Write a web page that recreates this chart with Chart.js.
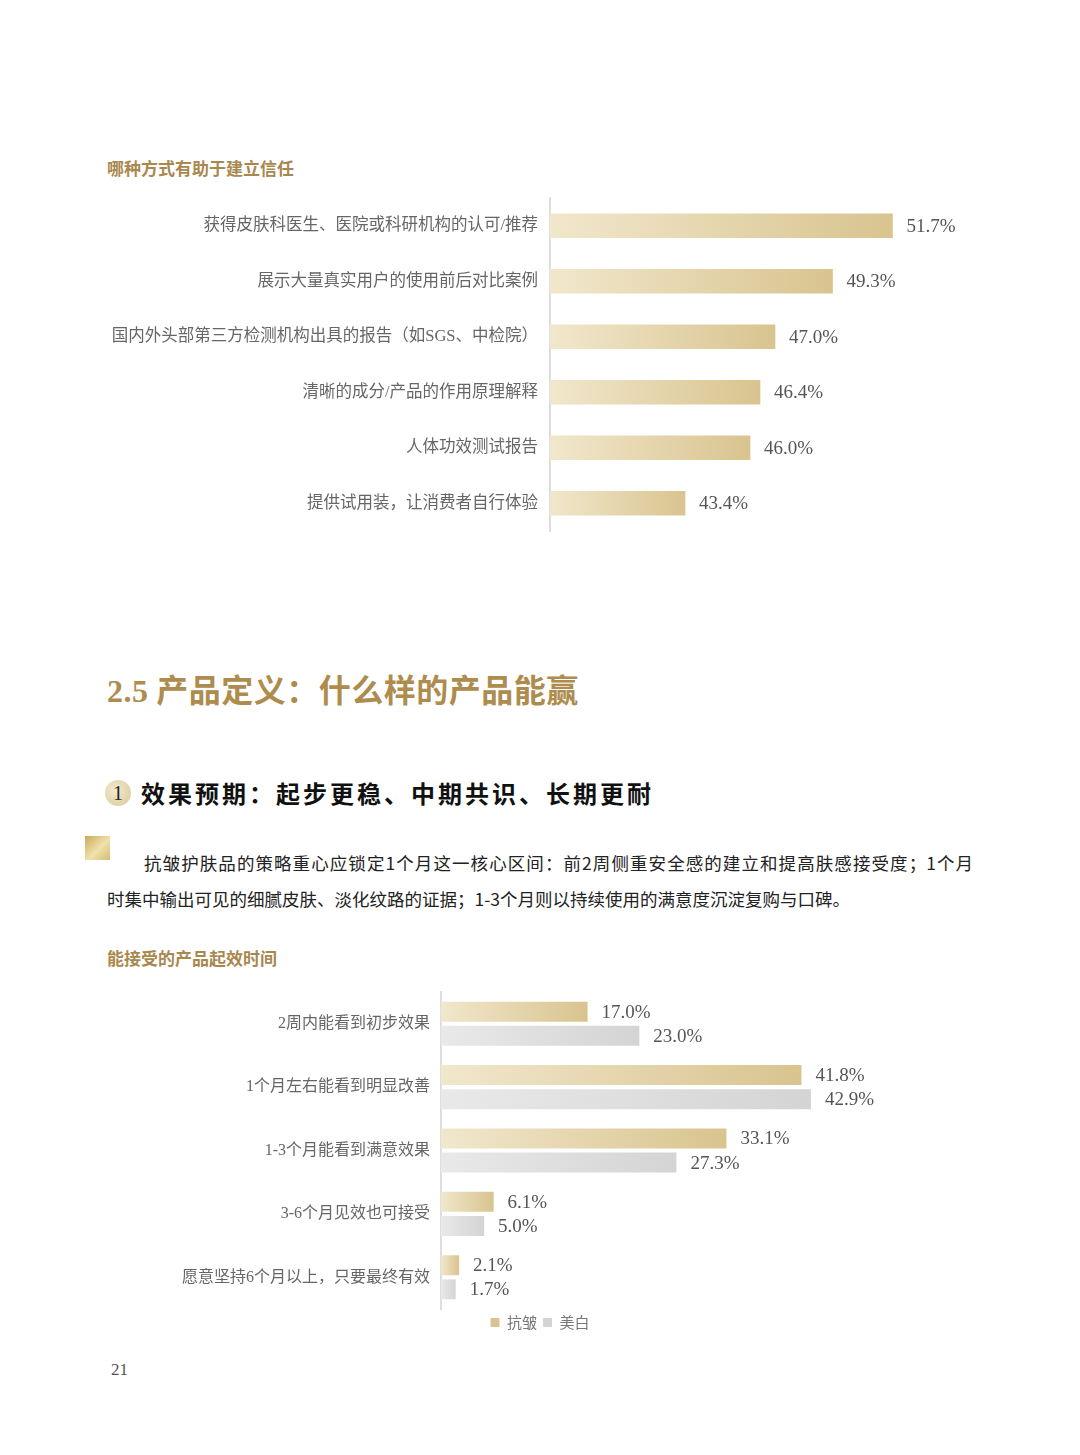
<!DOCTYPE html>
<html lang="zh">
<head>
<meta charset="UTF-8">
<script src="https://cdn.jsdelivr.net/npm/chart.js"></script>
<title>2.5 产品定义</title>
<style>
  html, body { margin: 0; padding: 0; background: #fff; }
  body { width: 1080px; height: 1455px; position: relative; overflow: hidden;
         font-family: "Noto Sans CJK SC", "Liberation Serif", sans-serif; }
  .abs { position: absolute; line-height: 1; white-space: nowrap; }
  .sub { left: 107px; font-size: 17px; font-weight: bold; color: #a8884f; }
  #title { left: 107px; top: 672px; font-size: 32px; font-weight: bold; color: #ae8c4e; letter-spacing: 0.5px; }
  #title .num { font-family: "Liberation Serif", serif; }
  #badge { left: 105px; top: 780px; width: 26px; height: 26px; border-radius: 50%;
           background: radial-gradient(circle at 40% 40%, #f3ead0, #d8c797);
           font-family: "Liberation Serif", serif; font-size: 20px; line-height: 26px; text-align: center; color: #222; }
  #heading { left: 141px; top: 781px; font-size: 24px; font-weight: bold; color: #111; letter-spacing: 3px; }
  #square { left: 85px; top: 836px; width: 25px; height: 24px;
            background: linear-gradient(135deg, #c9a95c, #f0e2ab 55%, #d6ba72); }
  .para { font-size: 17.5px; color: #222; }
  #line1 { left: 144px; top: 854px; width: 829px; text-align: justify; text-align-last: justify; }
  #line2 { left: 107px; top: 890px; }
  #page { left: 111px; top: 1361px; font-family: "Liberation Serif", serif; font-size: 17px; color: #555; }
  .box { position: absolute; left: 0; width: 1080px; }
</style>
</head>
<body>
<div class="abs sub" style="top:159px">哪种方式有助于建立信任</div>
<div class="box" style="top:190px;height:350px"><canvas id="trustChart"></canvas></div>

<div class="abs" id="title"><span class="num">2.5</span> 产品定义：什么样的产品能赢</div>
<div class="abs" id="badge">1</div>
<div class="abs" id="heading">效果预期：起步更稳、中期共识、长期更耐</div>
<div class="abs" id="square"></div>
<div class="abs para" id="line1">抗皱护肤品的策略重心应锁定1个月这一核心区间：前2周侧重安全感的建立和提高肤感接受度；1个月</div>
<div class="abs para" id="line2">时集中输出可见的细腻皮肤、淡化纹路的证据；1-3个月则以持续使用的满意度沉淀复购与口碑。</div>

<div class="abs sub" style="top:949px">能接受的产品起效时间</div>
<div class="box" style="top:985px;height:363px"><canvas id="timeChart"></canvas></div>
<div class="abs" id="page">21</div>

<script>
// chart 1: which ways help build trust
var trustLabels = ['获得皮肤科医生、医院或科研机构的认可/推荐', '展示大量真实用户的使用前后对比案例',
    '国内外头部第三方检测机构出具的报告（如SGS、中检院）', '清晰的成分/产品的作用原理解释',
    '人体功效测试报告', '提供试用装，让消费者自行体验'];
var trustValues = [51.7, 49.3, 47.0, 46.4, 46.0, 43.4];

// chart 2: acceptable time to take effect
var timeLabels = ['2周内能看到初步效果', '1个月左右能看到明显改善', '1-3个月能看到满意效果',
    '3-6个月见效也可接受', '愿意坚持6个月以上，只要最终有效'];
var seriesNames = ['抗皱', '美白'];
var antiWrinkle = [17.0, 41.8, 33.1, 6.1, 2.1];
var whitening = [23.0, 42.9, 27.3, 5.0, 1.7];

var gold = ['#f1e7cc', '#d9c48f'];
var grey = ['#e9e9e9', '#d4d4d4'];

function labelFont(size) {
    return { family: '"Liberation Serif", "Noto Sans CJK SC", serif', size: size };
}

// each bar gets its own light-to-dark gradient along its length
function barFill(c) {
    return function (ctx) {
        var chart = ctx.chart;
        if (ctx.type !== 'data' || !chart.chartArea) return c[1];
        var xs = chart.scales.x;
        var x0 = xs.getPixelForValue(xs.min);
        var x1 = xs.getPixelForValue(ctx.raw);
        if (x1 - x0 < 1) return c[1];
        var g = chart.ctx.createLinearGradient(x0, 0, x1, 0);
        g.addColorStop(0, c[0]);
        g.addColorStop(1, c[1]);
        return g;
    };
}

var valueLabels = {
    id: 'valueLabels',
    afterDatasetsDraw: function (chart) {
        var c = chart.ctx;
        c.save();
        c.font = '19px "Liberation Serif", serif';
        c.fillStyle = '#555';
        c.textBaseline = 'middle';
        chart.data.datasets.forEach(function (ds, i) {
            chart.getDatasetMeta(i).data.forEach(function (bar, j) {
                c.fillText(ds.data[j].toFixed(1) + '%', bar.x + 14, bar.y + 1);
            });
        });
        c.restore();
    }
};

function yAxis(width, pad, size) {
    return {
        afterFit: function (s) {
            s.width = width;
            s.paddingTop = 0;
            s.paddingBottom = 0;
        },
        grid: { display: false, drawTicks: false },
        border: { display: true, color: '#dedede', width: 2 },
        ticks: { color: '#666', font: labelFont(size), padding: pad }
    };
}

new Chart(document.getElementById('trustChart'), {
    type: 'bar',
    data: {
        labels: trustLabels,
        datasets: [{
            data: trustValues,
            backgroundColor: barFill(gold),
            borderWidth: 0,
            barThickness: 24
        }]
    },
    options: {
        indexAxis: 'y',
        responsive: true,
        maintainAspectRatio: false,
        animation: false,
        layout: { padding: { top: 8, bottom: 9, left: 0, right: 80 } },
        plugins: { legend: { display: false }, tooltip: { enabled: false } },
        scales: {
            x: { display: false, min: 38, max: 56 },
            y: yAxis(550, 12, 16.5)
        }
    },
    plugins: [valueLabels]
});

new Chart(document.getElementById('timeChart'), {
    type: 'bar',
    data: {
        labels: timeLabels,
        datasets: [{
            label: seriesNames[0],
            data: antiWrinkle,
            backgroundColor: barFill(gold),
            borderWidth: 0
        }, {
            label: seriesNames[1],
            data: whitening,
            backgroundColor: barFill(grey),
            borderWidth: 0
        }]
    },
    options: {
        indexAxis: 'y',
        responsive: true,
        maintainAspectRatio: false,
        animation: false,
        categoryPercentage: 0.76,
        barPercentage: 0.83,
        layout: { padding: { top: 7, bottom: 8, left: 0, right: 0 } },
        plugins: {
            tooltip: { enabled: false },
            legend: {
                position: 'bottom',
                labels: {
                    boxWidth: 9, boxHeight: 9, padding: 6,
                    color: '#777',
                    font: { family: '"Noto Sans CJK SC", sans-serif', size: 15 },
                    generateLabels: function (chart) {
                        var items = Chart.defaults.plugins.legend.labels.generateLabels(chart);
                        items.forEach(function (it, i) {
                            var c = i === 0 ? gold : grey;
                            it.fillStyle = c[1];
                            it.strokeStyle = c[1];
                            it.lineWidth = 0;
                        });
                        return items;
                    }
                }
            }
        },
        scales: {
            x: { display: false, min: 0, max: 74.1 },
            y: yAxis(441, 11, 16)
        }
    },
    plugins: [valueLabels]
});
</script>
</body>
</html>
